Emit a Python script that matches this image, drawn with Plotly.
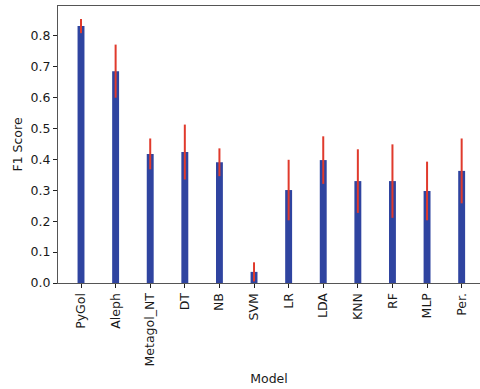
import plotly.graph_objects as go

models = ["PyGol", "Aleph", "Metagol_NT", "DT", "NB", "SVM", "LR", "LDA", "KNN", "RF", "MLP", "Per."]
f1_mean = [0.832, 0.686, 0.418, 0.424, 0.391, 0.036, 0.301, 0.398, 0.330, 0.330, 0.298, 0.363]
f1_err = [0.023, 0.086, 0.050, 0.089, 0.045, 0.031, 0.098, 0.077, 0.103, 0.119, 0.095, 0.105]
y_ticks = [0.0, 0.1, 0.2, 0.3, 0.4, 0.5, 0.6, 0.7, 0.8]

fig = go.Figure()
fig.add_trace(go.Bar(
    x=list(range(len(models))),
    y=f1_mean,
    width=0.2,
    marker=dict(color="#2F44A0", line=dict(width=0)),
    error_y=dict(type="data", array=f1_err, visible=True, color="#E03A2C", thickness=2, width=0),
))

font = dict(family="DejaVu Sans", size=12.5, color="#1a1a1a")
fig.update_layout(
    width=480, height=389,
    margin=dict(l=58, r=0, t=6, b=106),
    plot_bgcolor="white", paper_bgcolor="white",
    showlegend=False,
    font=font,
    xaxis=dict(
        tickmode="array", tickvals=list(range(len(models))), ticktext=models,
        tickangle=-90, range=[-0.665, 11.53], automargin=False,
        showline=True, linecolor="#555555", linewidth=1.2, mirror=True,
        ticks="outside", ticklen=4, tickcolor="#222222",
        showgrid=False, zeroline=False,
        title=dict(text="Model", font=font, standoff=8),
        tickfont=font,
    ),
    yaxis=dict(
        tickmode="array", tickvals=y_ticks, ticktext=[f"{v:.1f}" for v in y_ticks],
        range=[0, 0.897], automargin=False,
        showline=True, linecolor="#555555", linewidth=1.2, mirror=False,
        ticks="outside", ticklen=4, tickcolor="#222222",
        showgrid=False, zeroline=False,
        title=dict(text="F1 Score", font=font, standoff=5),
        tickfont=font,
    ),
)
fig.write_html(
    "out.html",
    config={"displayModeBar": False},
    post_script="document.body.style.margin='0';document.body.style.overflow='hidden';",
)
